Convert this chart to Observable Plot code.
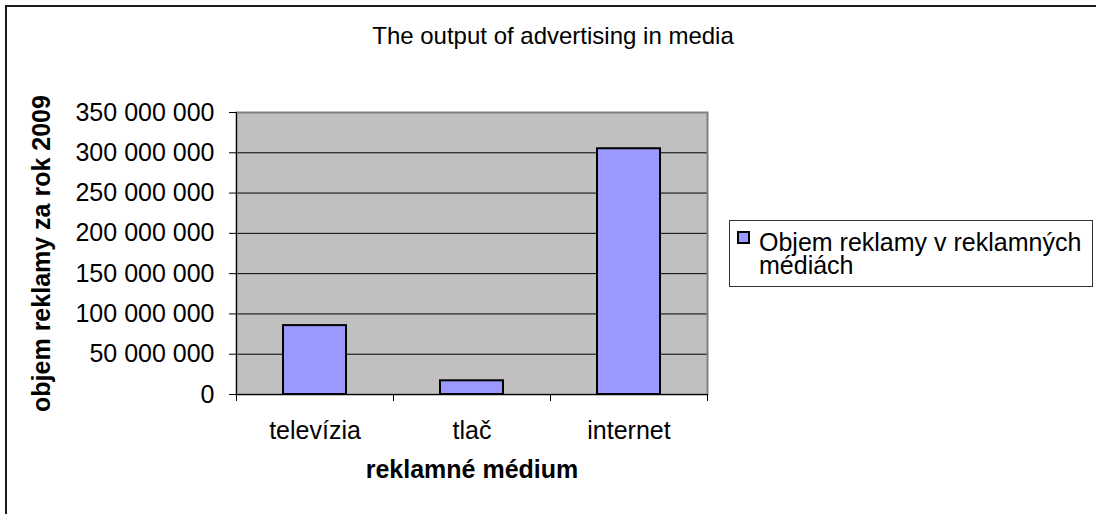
<!DOCTYPE html>
<html>
<head>
<meta charset="utf-8">
<script src="https://cdn.jsdelivr.net/npm/d3@7"></script>
<script src="https://cdn.jsdelivr.net/npm/@observablehq/plot@0.6"></script>
<style>
  html, body { margin: 0; padding: 0; background: #fff; width: 1096px; height: 514px; overflow: hidden; }
  body { position: relative; font-family: "Liberation Sans", Arial, sans-serif; color: #000; }
  #frameTop { position: absolute; left: 5px; top: 5px; width: 1091px; height: 2px; background: #1a1a1a; }
  #frameLeft { position: absolute; left: 5px; top: 5px; width: 2px; height: 509px; background: #1a1a1a; }
  #chart { position: absolute; left: 0; top: 0; }
  #title { position: absolute; left: 253px; top: 24px; width: 600px; text-align: center; font-size: 24px; line-height: 24px; }
  #legend { position: absolute; left: 729px; top: 220px; width: 364px; height: 67px; border: 1px solid #333; box-sizing: border-box; background: #fff; }
  #legend .sw { position: absolute; left: 7px; top: 10px; width: 13px; height: 13px; border: 2px solid #000; box-sizing: border-box; }
  #legend .lbl { position: absolute; left: 29px; top: 10px; width: 332px; font-size: 25px; line-height: 23px; white-space: normal; }
</style>
</head>
<body>
<div id="frameTop"></div>
<div id="frameLeft"></div>
<div id="chart"></div>
<div id="title"></div>
<div id="legend"><div class="sw"></div><div class="lbl"></div></div>
<script>
const chartTitle = "The output of advertising in media";
const categories = ["televízia", "tlač", "internet"];
const values = [85500000, 17000000, 305000000];
const seriesName = "Objem reklamy v reklamných médiách";
const yTicks = [0, 50000000, 100000000, 150000000, 200000000, 250000000, 300000000, 350000000];
const yLabel = "objem reklamy za rok 2009";
const xLabel = "reklamné médium";
const barColor = "#9999FF";

const data = categories.map((c, i) => ({i, category: c, value: values[i]}));
const fmt = d => d3.format(",")(d).replace(/,/g, " ");

document.getElementById("title").textContent = chartTitle;
document.querySelector("#legend .lbl").textContent = seriesName;
document.querySelector("#legend .sw").style.background = barColor;

const plot = Plot.plot({
  width: 1096,
  height: 514,
  marginLeft: 236,
  marginRight: 389,
  marginTop: 112,
  marginBottom: 120,
  style: {fontFamily: "'Liberation Sans', Arial, sans-serif", fontSize: "25px", color: "#000", background: "transparent", overflow: "visible"},
  x: {type: "linear", domain: [0, categories.length]},
  y: {domain: [0, yTicks[yTicks.length - 1]]},
  marks: [
    Plot.frame({fill: "#C0C0C0"}),
    Plot.gridY(yTicks.slice(1, -1), {stroke: "#000", strokeOpacity: 1}),
    Plot.frame({stroke: "#808080", strokeWidth: 2}),
    Plot.rectY(data, {x1: "i", x2: d => d.i + 1, y: "value", insetLeft: 47, insetRight: 47, fill: barColor, stroke: "#000", strokeWidth: 2}),
    Plot.ruleY([0], {stroke: "#000", strokeWidth: 1}),
    Plot.ruleX([0], {stroke: "#000", strokeWidth: 1}),
    Plot.axisY({ticks: yTicks, tickFormat: fmt, tickSize: 7, tickPadding: 15, label: null, fontSize: 25}),
    Plot.axisY({ticks: [], label: yLabel, labelAnchor: "center", labelArrow: "none", labelOffset: 204, fontSize: 25, fontWeight: "bold"}),
    Plot.axisX({ticks: d3.range(0, categories.length + 1), tickFormat: () => "", tickSize: 7, label: null}),
    Plot.axisX({ticks: categories.map((c, i) => i + 0.5), tickFormat: d => categories[Math.floor(d)], tickSize: 0, tickPadding: 27, label: null, fontSize: 25}),
    Plot.axisX({ticks: [], label: xLabel, labelAnchor: "center", labelArrow: "none", labelOffset: 83, fontSize: 25, fontWeight: "bold"})
  ]
});
document.getElementById("chart").appendChild(plot);
</script>
</body>
</html>
